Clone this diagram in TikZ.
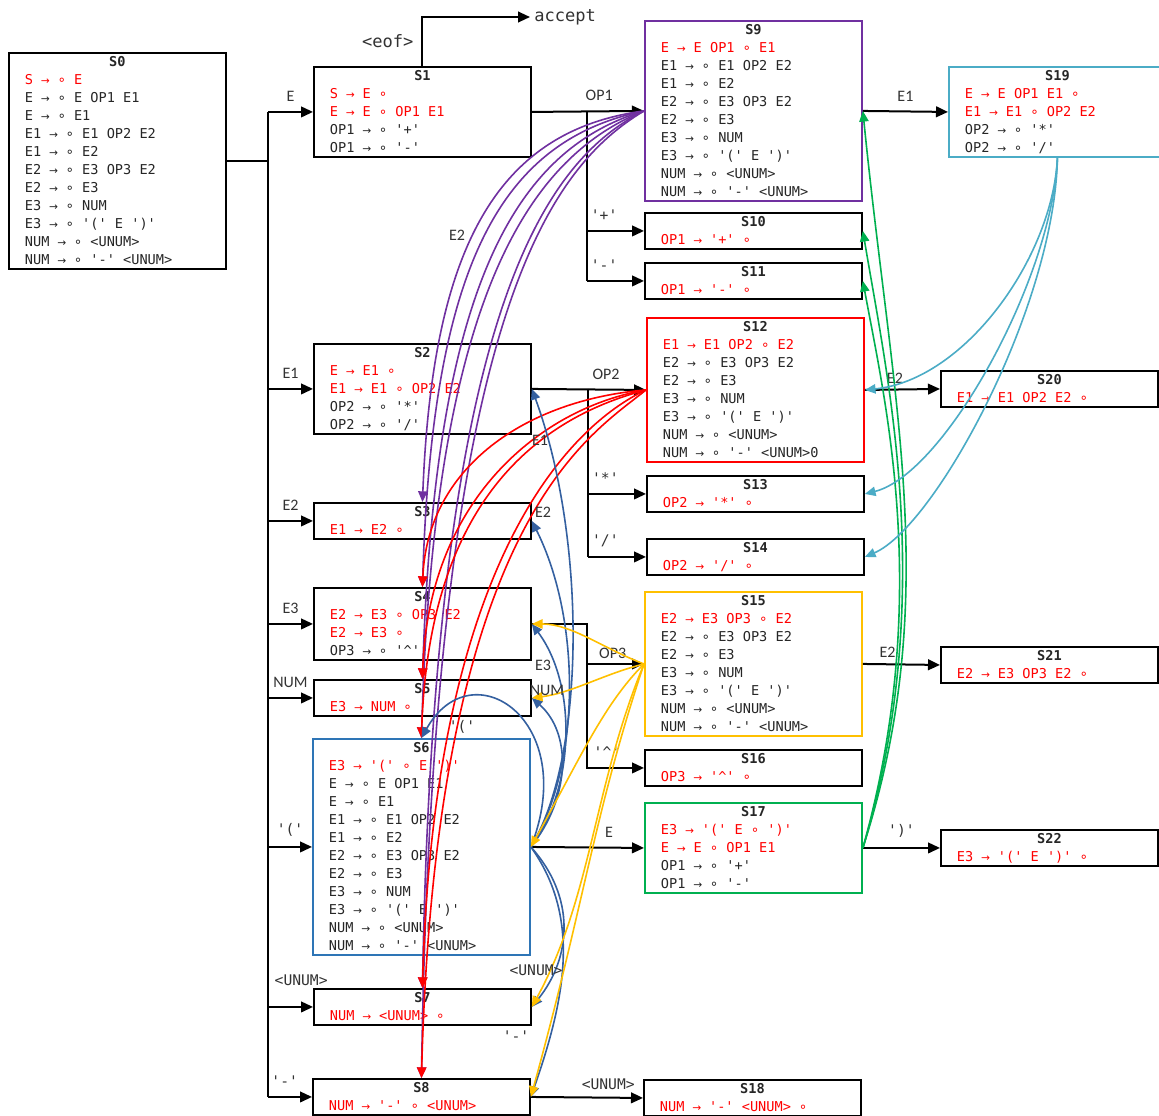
\documentclass[tikz,border=0pt]{standalone}
\usepackage{fontspec}
\setmonofont{DejaVu Sans Mono}
\newfontfamily\lblfont{Carlito}
\newfontfamily\symfont{DejaVu Sans}
\usetikzlibrary{arrows.meta}
\definecolor{cred}{RGB}{255,0,0}
\definecolor{cpurple}{RGB}{112,48,160}
\definecolor{cblue}{RGB}{46,117,182}
\definecolor{cedge}{RGB}{52,96,160}
\definecolor{cgold}{RGB}{255,192,0}
\definecolor{cgreen}{RGB}{0,176,80}
\definecolor{cteal}{RGB}{75,172,198}
% arrow and item dot take one mono cell each
\catcode`→=\active
\protected\def→{\makebox[0.602em]{\symfont\fontsize{8}{8}\selectfont\char"2192}}
\catcode`∘=\active
\protected\def∘{\makebox[0.602em]{\symfont\char"2218}}
\newcommand{\rd}[1]{\textcolor{cred}{#1}}
\newcommand{\rs}{\rule[-3.05pt]{0pt}{13.5pt}}
\newcommand{\stt}[1]{\spaceskip=0.602em\xspaceskip=0.602em\relax
  \makebox[\linewidth]{\rs\bfseries #1}}
\tikzset{stbox/.style={draw, line width=1.4pt, fill=white, anchor=north west,
           inner xsep=12pt, inner ysep=0pt, text width=138.75pt, align=left,
           font=\ttfamily\fontsize{10.2}{13.5}\selectfont, text=black!85},
         nrows/.style={minimum height=#1*13.5pt},
         lbl/.style={font=\lblfont\fontsize{12}{14}\selectfont, text=black!80, inner sep=1pt},
         tok/.style={font=\ttfamily\fontsize{11}{13}\selectfont, text=black!80, inner sep=1pt},
         ln/.style={line width=1.5pt},
         tr/.style={line width=1.5pt, -{Triangle[length=9pt,width=8pt]}},
         gt/.style={line width=1.2pt, -{Triangle[length=8pt,width=7pt]}}}

\begin{document}
\begin{tikzpicture}[x=0.75pt,y=-0.75pt]
    \useasboundingbox (0,0) rectangle (1159,1115);
    \fill[white] (0,0) rectangle (1159,1115);
    % states
    \node[stbox, nrows=12] (S0) at (8,52) {\stt{S0}\\ \rd{S → ∘ E}\\ E → ∘ E OP1 E1\\ E → ∘ E1\\
      E1 → ∘ E1 OP2 E2\\ E1 → ∘ E2\\ E2 → ∘ E3 OP3 E2\\ E2 → ∘ E3\\ E3 → ∘ NUM\\
      E3 → ∘ '(' E ')'\\ NUM → ∘ <UNUM>\\ NUM → ∘ '-' <UNUM>\rs};
    \node[stbox, nrows=5] (S1) at (313,66) {\stt{S1}\\ \rd{S → E ∘}\\ \rd{E → E ∘ OP1 E1}\\
      OP1 → ∘ '+'\\ OP1 → ∘ '-'\rs};
    \node[stbox, nrows=5] (S2) at (313,343) {\stt{S2}\\ \rd{E → E1 ∘}\\ \rd{E1 → E1 ∘ OP2 E2}\\
      OP2 → ∘ '*'\\ OP2 → ∘ '/'\rs};
    \node[stbox, nrows=2] (S3) at (313,502) {\stt{S3}\\ \rd{E1 → E2 ∘}\rs};
    \node[stbox, nrows=4] (S4) at (313,587) {\stt{S4}\\ \rd{E2 → E3 ∘ OP3 E2}\\ \rd{E2 → E3 ∘}\\
      OP3 → ∘ '\textasciicircum'\rs};
    \node[stbox, nrows=2] (S5) at (313,679) {\stt{S5}\\ \rd{E3 → NUM ∘}\rs};
    \node[stbox, nrows=12, draw=cblue] (S6) at (312,738) {\stt{S6}\\ \rd{E3 → '(' ∘ E ')'}\\
      E → ∘ E OP1 E1\\ E → ∘ E1\\ E1 → ∘ E1 OP2 E2\\ E1 → ∘ E2\\ E2 → ∘ E3 OP3 E2\\
      E2 → ∘ E3\\ E3 → ∘ NUM\\ E3 → ∘ '(' E ')'\\ NUM → ∘ <UNUM>\\ NUM → ∘ '-' <UNUM>\rs};
    \node[stbox, nrows=2] (S7) at (313,988) {\stt{S7}\\ \rd{NUM → <UNUM> ∘}\rs};
    \node[stbox, nrows=2] (S8) at (312,1078) {\stt{S8}\\ \rd{NUM → '-' ∘ <UNUM>}\rs};
    \node[stbox, nrows=10, draw=cpurple] (S9) at (644,20) {\stt{S9}\\ \rd{E → E OP1 ∘ E1}\\
      E1 → ∘ E1 OP2 E2\\ E1 → ∘ E2\\ E2 → ∘ E3 OP3 E2\\ E2 → ∘ E3\\ E3 → ∘ NUM\\
      E3 → ∘ '(' E ')'\\ NUM → ∘ <UNUM>\\ NUM → ∘ '-' <UNUM>\rs};
    \node[stbox, nrows=2] (S10) at (644,212) {\stt{S10}\\ \rd{OP1 → '+' ∘}\rs};
    \node[stbox, nrows=2] (S11) at (644,262) {\stt{S11}\\ \rd{OP1 → '-' ∘}\rs};
    \node[stbox, nrows=8, draw=cred] (S12) at (646,317) {\stt{S12}\\ \rd{E1 → E1 OP2 ∘ E2}\\
      E2 → ∘ E3 OP3 E2\\ E2 → ∘ E3\\ E3 → ∘ NUM\\ E3 → ∘ '(' E ')'\\ NUM → ∘ <UNUM>\\
      NUM → ∘ '-' <UNUM>0\rs};
    \node[stbox, nrows=2] (S13) at (646,475) {\stt{S13}\\ \rd{OP2 → '*' ∘}\rs};
    \node[stbox, nrows=2] (S14) at (646,538) {\stt{S14}\\ \rd{OP2 → '/' ∘}\rs};
    \node[stbox, nrows=8, draw=cgold] (S15) at (644,591) {\stt{S15}\\ \rd{E2 → E3 OP3 ∘ E2}\\
      E2 → ∘ E3 OP3 E2\\ E2 → ∘ E3\\ E3 → ∘ NUM\\ E3 → ∘ '(' E ')'\\ NUM → ∘ <UNUM>\\
      NUM → ∘ '-' <UNUM>\rs};
    \node[stbox, nrows=2] (S16) at (644,749) {\stt{S16}\\ \rd{OP3 → '\textasciicircum' ∘}\rs};
    \node[stbox, nrows=5, draw=cgreen] (S17) at (644,802) {\stt{S17}\\ \rd{E3 → '(' E ∘ ')'}\\
      \rd{E → E ∘ OP1 E1}\\ OP1 → ∘ '+'\\ OP1 → ∘ '-'\rs};
    \node[stbox, nrows=2] (S18) at (643,1079) {\stt{S18}\\ \rd{NUM → '-' <UNUM> ∘}\rs};
    \node[stbox, nrows=5, draw=cteal] (S19) at (948,66) {\stt{S19}\\ \rd{E → E OP1 E1 ∘}\\
      \rd{E1 → E1 ∘ OP2 E2}\\ OP2 → ∘ '*'\\ OP2 → ∘ '/'\rs};
    \node[stbox, nrows=2] (S20) at (940,370) {\stt{S20}\\ \rd{E1 → E1 OP2 E2 ∘}\rs};
    \node[stbox, nrows=2] (S21) at (940,646) {\stt{S21}\\ \rd{E2 → E3 OP3 E2 ∘}\rs};
    \node[stbox, nrows=2] (S22) at (940,829) {\stt{S22}\\ \rd{E3 → '(' E ')' ∘}\rs};
    \node[anchor=west, inner sep=3pt, text=black!80,
          font=\ttfamily\fontsize{12.8}{14}\selectfont] (acc) at (530,17) {accept};

    % shift edges from S0
    \coordinate (tk) at (268,0);
    \draw[ln] (S0.east) -- (S0.east -| tk);
    \draw[ln] (tk |- S1.west) -- (tk |- S8.west);
    \foreach \s/\t in {S1/E, S2/E1, S3/E2, S4/E3, S5/NUM}
      \draw[tr] (tk |- \s.west) -- node[lbl, above=6pt] {\t} (\s.west);
    \draw[tr] (tk |- S6.west) -- node[tok, above=6pt] {'('} (S6.west);
    \draw[tr] (tk |- S7.west) -- node[tok, above=14pt, xshift=8pt] {<UNUM>} (S7.west);
    \draw[tr] (tk |- S8.west) -- node[tok, above=6pt, xshift=-4pt] {'-'} (S8.west);

    % other shift edges
    \draw[tr] (S1.north) |- node[pos=0.25, left=5pt, tok, font=\ttfamily\fontsize{12.8}{14}\selectfont] {<eof>} (acc.west);
    \coordinate (k1) at (587,0);
    \draw[tr] (S1.east) -- node[lbl, above=6pt, pos=0.6] {OP1} (S9.west);
    \draw[ln] (S1.east -| k1) -- (k1 |- S11.west);
    \draw[tr] (k1 |- S10.west) -- node[tok, above=6pt, pos=0.3] {'+'} (S10.west);
    \draw[tr] (k1 |- S11.west) -- node[tok, above=6pt, pos=0.3] {'-'} (S11.west);
    \coordinate (k2) at (588,0);
    \draw[tr] (S2.east) -- node[lbl, above=6pt, pos=0.65] {OP2} (S12.west);
    \draw[ln] (S2.east -| k2) -- (k2 |- S14.west);
    \draw[tr] (k2 |- S13.west) -- node[tok, above=6pt, pos=0.3] {'*'} (S13.west);
    \draw[tr] (k2 |- S14.west) -- node[tok, above=6pt, pos=0.3] {'/'} (S14.west);
    \coordinate (k3) at (587,0);
    \draw[tr] (S4.east) -- (S4.east -| k3) -- (k3 |- S15.west)
      -- node[lbl, above=2pt, pos=0.45] {OP3} (S15.west);
    \draw[tr] (k3 |- S15.west) -- (k3 |- S16.west)
      -- node[tok, above=6pt, pos=0.35] {'\textasciicircum'} (S16.west);
    \draw[tr] (S6.east) -- node[lbl, above=6pt, pos=0.69] {E} (S17.west);
    \draw[tr] (S8.east) -- node[tok, above=4pt, pos=0.69] {<UNUM>} (S18.west);
    \draw[tr] (S9.east) -- node[lbl, above=6pt] {E1} (S19.west);
    \draw[tr] (S12.east) -- node[lbl, above=3pt, pos=0.4] {E2} (S20.west);
    \draw[tr] (S15.east) -- node[lbl, above=3pt, pos=0.32] {E2} (S21.west);
    \draw[tr] (S17.east) -- node[tok, above=6pt] {')'} (S22.west);

    % goto edges back into existing states
    \foreach \t/\ax/\ay/\bx/\by in {S3/-150/20/10/-250, S4/-145/30/10/-320, S5/-135/40/12/-380,
        S6/-125/50/12/-420, S7/-110/55/12/-650, S8/-100/60/12/-750}
      \draw[gt, cpurple] (S9.west) .. controls +(\ax,\ay) and +(\bx,\by) .. (\t.north);
    \foreach \t/\ax/\ay/\bx/\by in {S4/-120/10/5/-120, S5/-105/18/6/-180, S6/-95/25/8/-250,
        S7/-75/35/12/-430, S8/-55/45/15/-560}
      \draw[gt, cred] (S12.west) .. controls +(\ax,\ay) and +(\bx,\by) .. (\t.north);
    \foreach \t/\ax/\ay/\bx/\by in {S2/55/-90/55/150, S3/50/-80/50/100, S4/45/-60/45/60,
        S5/40/-50/40/35, S7/45/50/40/-50, S8/50/70/35/-100}
      \draw[gt, cedge] (S6.east) .. controls +(\ax,\ay) and +(\bx,\by) .. (\t.east);
    \draw[gt, cedge] (S6.east) .. controls +(50,-127) and +(50,-90) .. (S6.north);
    \foreach \t/\ax/\ay/\bx/\by in {S4/-40/-15/40/0, S5/-40/10/40/-5, S6/-40/40/50/-90,
        S7/-50/120/60/-110, S8/-50/150/55/-200}
      \draw[gt, cgold] (S15.west) .. controls +(\ax,\ay) and +(\bx,\by) .. (\t.east);
    \foreach \t/\ax/\ay/\bx/\by in {S9/80/-250/30/300, S10/75/-250/25/150, S11/70/-250/22/120}
      \draw[gt, cgreen] (S17.east) .. controls +(\ax,\ay) and +(\bx,\by) .. (\t.east);
    \foreach \t/\ax/\ay/\bx/\by in {S12/-5/100/100/-10, S13/-5/120/80/-20, S14/-3/150/70/-30}
      \draw[gt, cteal] (S19.south) .. controls +(\ax,\ay) and +(\bx,\by) .. (\t.east);

    % labels of the goto edges
    \node[lbl] (gE2) at (457,235) {E2};
    \node[lbl] (gE1) at (540,440) {E1};
    \node[lbl] (gE2b) at (543,512) {E2};
    \node[lbl] (gE3) at (543,665) {E3};
    \node[lbl] (gNUM) at (547,690) {NUM};
    \node[tok] (gpar) at (462,727) {'('};
    \node[tok] (gunum) at (536,970) {<UNUM>};
    \node[tok] (gmin) at (516,1036) {'-'};
\end{tikzpicture}
\end{document}
